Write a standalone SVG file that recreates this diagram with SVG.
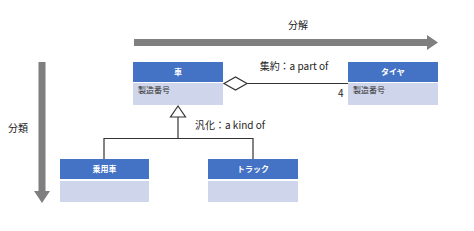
<svg xmlns="http://www.w3.org/2000/svg" width="474" height="231" viewBox="0 0 474 231">
<style>
.hd{fill:#4472C4}
.bd{fill:#CFD5EA}
.ht{font-family:"Noto Sans CJK JP","Noto Sans",sans-serif;font-size:8px;font-weight:bold;fill:#fff;text-anchor:middle}
.bt{font-family:"Noto Sans CJK JP","Noto Sans",sans-serif;font-size:8px;fill:#333}
.lb{font-family:"Noto Sans CJK JP","Liberation Sans",sans-serif;font-size:10px;fill:#222}
.ln{stroke:#333;stroke-width:1.2;fill:none}
.ar{fill:#7F7F7F}
</style>
<rect width="474" height="231" fill="#fff"/>
<g id="axis-decompose">
<polygon class="ar" points="134,39 427,39 427,35 438,42.5 427,50 427,46 134,46"/>
<text class="lb" x="298" y="29" text-anchor="middle">分解</text>
</g>
<g id="axis-classify">
<polygon class="ar" points="38.5,62 45.5,62 45.5,191 50,191 42,203 34,191 38.5,191"/>
<text class="lb" x="18" y="132" text-anchor="middle">分類</text>
</g>
<g id="connectors">
<line class="ln" x1="247" y1="83.5" x2="348" y2="83.5"/>
<polygon points="224,83.5 235.5,77 247,83.5 235.5,90" fill="#fff" stroke="#333" stroke-width="1.2"/>
<text class="lb" x="338" y="97" font-size="8">4</text>
<text class="lb" x="294" y="70" text-anchor="middle">集約：a part of</text>
<polyline class="ln" points="178,117 178,138.5"/>
<polyline class="ln" points="104,159 104,138.5 253,138.5 253,159"/>
<polygon points="178,106 185.5,117 170.5,117" fill="#fff" stroke="#333" stroke-width="1.2"/>
<text class="lb" x="195" y="129">汎化：a kind of</text>
</g>
<g id="car">
<rect class="hd" x="133" y="62" width="90" height="20"/>
<rect class="bd" x="133" y="83" width="90" height="22"/>
<text class="ht" x="178" y="75">車</text>
<text class="bt" x="138" y="93">製造番号</text>
</g>
<g id="tire">
<rect class="hd" x="348" y="62" width="90" height="20"/>
<rect class="bd" x="348" y="83" width="90" height="22"/>
<text class="ht" x="393" y="75">タイヤ</text>
<text class="bt" x="353" y="93">製造番号</text>
</g>
<g id="passenger-car">
<rect class="hd" x="60" y="159" width="89" height="20"/>
<rect class="bd" x="60" y="181" width="89" height="21"/>
<text class="ht" x="104.5" y="172">乗用車</text>
</g>
<g id="truck">
<rect class="hd" x="208" y="159" width="90" height="20"/>
<rect class="bd" x="208" y="181" width="90" height="21"/>
<text class="ht" x="253" y="172">トラック</text>
</g>
</svg>
